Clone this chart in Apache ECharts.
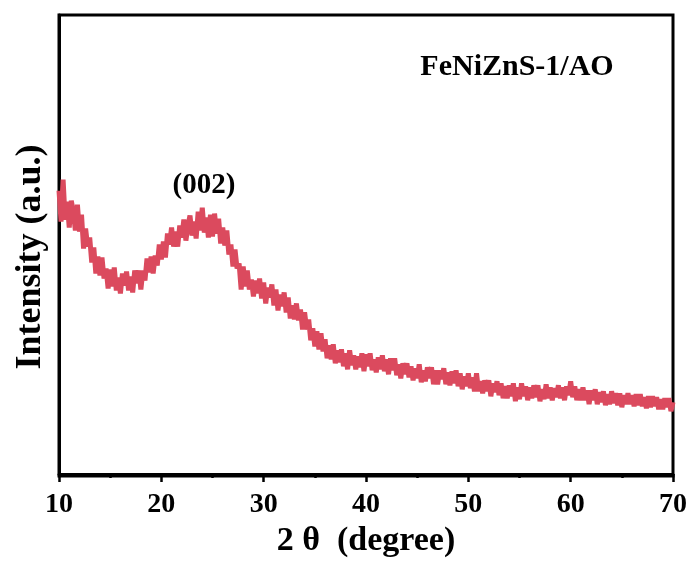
<!DOCTYPE html>
<html>
<head>
<meta charset="utf-8">
<script src="https://cdn.jsdelivr.net/npm/echarts@6/dist/echarts.min.js"></script>
<style>
html,body{margin:0;padding:0;background:#fff;}
#chart{width:691px;height:563px;}
</style>
</head>
<body>
<div id="chart"></div>
<script>
// 2θ sampling grid (degrees)
const thetaStart = 10;
const thetaStep = 0.2;
// Intensity (a.u.), one row per degree (x.0, x.2, x.4, x.6, x.8)
const intensity = [
  284, 253, 295, 255, 273,
  247, 274, 263, 244, 270,
  243, 260, 226, 246, 228,
  237, 212, 227, 201, 218,
  199, 217, 196, 206, 186,
  205, 188, 207, 184, 197,
  181, 201, 189, 203, 184,
  198, 182, 204, 191, 204,
  185, 204, 194, 216, 202,
  218, 201, 219, 209, 230,
  215, 233, 217, 241, 230,
  247, 228, 243, 228, 249,
  237, 255, 234, 249, 259,
  239, 253, 236, 263, 244,
  267, 242, 257, 237, 260,
  238, 261, 241, 256, 231,
  247, 229, 244, 220, 230,
  208, 225, 206, 211, 185,
  208, 188, 204, 185, 195,
  178, 194, 181, 196, 176,
  192, 171, 187, 177, 190,
  169, 185, 164, 180, 168,
  182, 162, 177, 156, 169,
  155, 171, 154, 165, 145,
  162, 145, 155, 134, 146,
  128, 143, 125, 141, 123,
  135, 116, 129, 115, 130,
  111, 124, 112, 125, 108,
  121, 105, 124, 109, 119,
  105, 118, 107, 121, 103,
  120, 108, 121, 104, 115,
  102, 117, 105, 119, 103,
  115, 100, 116, 104, 116,
  99, 110, 96, 111, 100,
  111, 97, 108, 94, 106,
  96, 110, 92, 104, 93,
  107, 96, 107, 90, 104,
  90, 104, 95, 106, 90,
  102, 89, 103, 91, 104,
  88, 101, 85, 98, 88,
  101, 86, 97, 83, 101,
  83, 93, 81, 94, 83,
  94, 78, 91, 82, 93,
  79, 91, 76, 88, 76,
  89, 78, 91, 73, 87,
  75, 91, 78, 88, 74,
  87, 76, 89, 77, 89,
  73, 85, 75, 90, 76,
  87, 74, 86, 77, 89,
  76, 87, 74, 88, 79,
  93, 77, 88, 74, 85,
  74, 87, 74, 84, 70,
  84, 74, 85, 70, 82,
  72, 83, 69, 80, 70,
  83, 71, 81, 69, 81,
  67, 79, 70, 81, 70,
  79, 68, 80, 69, 80,
  68, 77, 66, 78, 67,
  78, 68, 77, 65, 75,
  65, 76, 67, 76, 63,
  72
];
const xTicks = [10, 20, 30, 40, 50, 60, 70];
const sampleLabel = 'FeNiZnS-1/AO';
const peakLabel = '(002)';
const xTitle = '2 θ  (degree)';
const yTitle = 'Intensity (a.u.)';

const twoTheta = intensity.map((_, i) => +(thetaStart + thetaStep * i).toFixed(1));
const seriesData = intensity.map((v, i) => [twoTheta[i], v]);

const serif = '"Liberation Serif", "Times New Roman", serif';
const chart = echarts.init(document.getElementById('chart'), null, {renderer: 'canvas'});
chart.setOption({
  animation: false,
  backgroundColor: '#fff',
  grid: {left: 59, right: 18, top: 15, bottom: 86, show: true, borderColor: '#000', borderWidth: 3, backgroundColor: 'transparent'},
  xAxis: {
    type: 'value',
    min: xTicks[0], max: xTicks[xTicks.length - 1], interval: 10,
    name: xTitle, nameLocation: 'middle', nameGap: 47,
    nameTextStyle: {fontFamily: serif, fontWeight: 'bold', fontSize: 34, color: '#000'},
    axisLine: {show: true, lineStyle: {color: '#000', width: 3}},
    axisTick: {show: true, inside: false, length: 8, lineStyle: {color: '#000', width: 2.5}},
    minorTick: {show: true, splitNumber: 2, length: 4, lineStyle: {color: '#000', width: 2.5}},
    axisLabel: {fontFamily: serif, fontWeight: 'bold', fontSize: 28, color: '#000', margin: 15},
    splitLine: {show: false}
  },
  yAxis: {
    type: 'value', min: -2, max: 460,
    axisLine: {show: true, lineStyle: {color: '#000', width: 3}},
    axisTick: {show: false}, axisLabel: {show: false}, splitLine: {show: false}
  },
  graphic: [
    {type: 'text', x: 31, y: 257, rotation: Math.PI / 2,
     style: {text: yTitle, font: 'bold 36px ' + serif, fill: '#000', textAlign: 'center', textVerticalAlign: 'middle'}},
    {type: 'text', x: 517, y: 67,
     style: {text: sampleLabel, font: 'bold 30px ' + serif, fill: '#000', textAlign: 'center', textVerticalAlign: 'middle'}},
    {type: 'text', x: 204, y: 186,
     style: {text: peakLabel, font: 'bold 29px ' + serif, fill: '#000', textAlign: 'center', textVerticalAlign: 'middle'}}
  ],
  series: [{
    type: 'line', data: seriesData, showSymbol: false, symbol: 'none',
    lineStyle: {color: '#DB4A5E', width: 5}, z: 1
  }]
});
</script>
</body>
</html>
